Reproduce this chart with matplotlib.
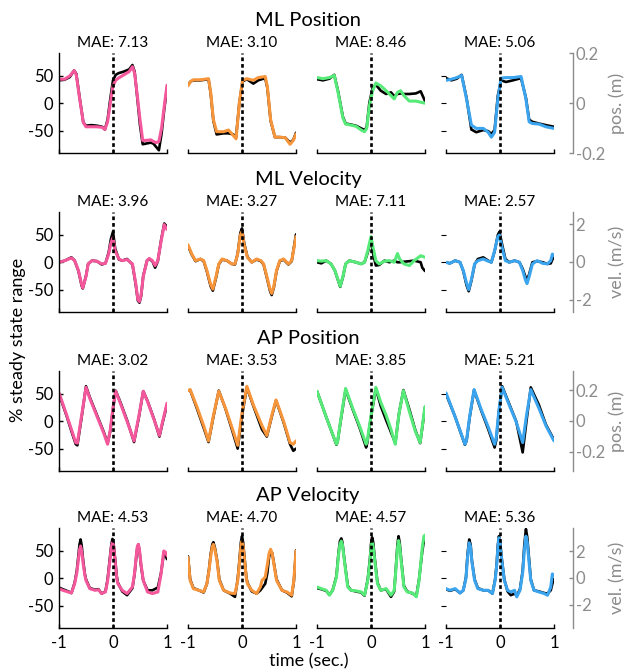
import matplotlib
matplotlib.use('Agg')
import matplotlib.pyplot as plt

plt.rcParams['font.family'] = ['Lato', 'DejaVu Sans']
plt.rcParams['axes.unicode_minus'] = False

# one colour per subject / column
colors = ['#f4579b', '#f7953b', '#56ea78', '#3ba4ee']
gray = '#8c8c8c'

row_titles = ['ML Position', 'ML Velocity', 'AP Position', 'AP Velocity']
right_labels = ['pos. (m)', 'vel. (m/s)', 'pos. (m)', 'vel. (m/s)']
right_lims = [(-0.2, 0.2), (-2.65, 2.65), (-0.325, 0.325), (-3.75, 3.75)]
right_ticks = [[-0.2, 0, 0.2], [-2, 0, 2], [-0.2, 0, 0.2], [-2, 0, 2]]
left_ticks = [-50, 0, 50]
time_ticks = [-1, 0, 1]
mae = [[7.13, 3.10, 8.46, 5.06],
       [3.96, 3.27, 7.11, 2.57],
       [3.02, 3.53, 3.85, 5.21],
       [4.53, 4.70, 4.57, 5.36]]

# ---- ML position (% steady state range) ----
mlp_t1 = [-1, -0.9, -0.8, -0.72, -0.68, -0.62, -0.55, -0.5, -0.4, -0.3, -0.2, -0.15, -0.1, -0.05, 0, 0.05,
          0.1, 0.2, 0.3, 0.36, 0.4, 0.45, 0.5, 0.55, 0.6, 0.7, 0.75, 0.8, 0.85, 0.9, 0.95, 1.0]
mlp_pred1 = [44, 44, 50, 60, 52, 10, -35, -43, -43, -43, -44, -48, -34, 0, 32, 42, 46, 52, 58, 67, 55, 14,
             -30, -68, -68, -67, -70, -72, -70, -45, -5, 33]
mlp_true1 = [42, 43, 48, 60, 54, 12, -35, -41, -40, -41, -43, -48, -30, 8, 42, 52, 55, 58, 62, 70, 58, 10,
             -40, -75, -74, -72, -74, -80, -86, -55, -10, 28]

mlp_t2 = [-1, -0.95, -0.9, -0.77, -0.62, -0.58, -0.53, -0.47, -0.34, -0.25, -0.16, -0.11, -0.05, 0.01, 0.09,
          0.21, 0.3, 0.43, 0.47, 0.53, 0.61, 0.7, 0.8, 0.89, 0.95, 1.0]
mlp_pred2 = [32, 40, 43, 43, 45, 20, -30, -52, -52, -49, -59, -65, 0, 42, 45, 42, 47, 49, 30, -30, -62, -62,
             -63, -75, -68, -56]
mlp_true2 = [34, 40, 42, 42, 44, 18, -32, -57, -55, -55, -57, -62, 0, 40, 44, 36, 42, 46, 28, -32, -62, -62,
             -63, -72, -67, -54]

mlp_t3 = [-1, -0.89, -0.77, -0.68, -0.61, -0.52, -0.47, -0.37, -0.28, -0.18, -0.12, -0.08, -0.03, 0.03, 0.09,
          0.18, 0.28, 0.37, 0.43, 0.49, 0.55, 0.61, 0.71, 0.83, 0.92, 1.0]
mlp_pred3 = [47, 45, 47, 51, 20, -27, -38, -40, -42, -49, -52, -46, -5, 23, 37, 32, 23, 14, 8, 20, 23, 14, 4,
             4, 2, 0]
mlp_true3 = [44, 42, 45, 52, 22, -25, -37, -39, -41, -46, -49, -44, 1, 28, 34, 23, 17, 20, 13, 17, 18, 17, 17,
             18, 22, 4]

mlp_t4 = [-1, -0.9, -0.8, -0.71, -0.62, -0.53, -0.44, -0.31, -0.22, -0.16, -0.1, -0.04, 0.02, 0.11, 0.24,
          0.39, 0.48, 0.54, 0.6, 0.72, 0.85, 1.0]
mlp_pred4 = [42, 44, 47, 51, 8, -40, -46, -46, -53, -62, -53, 8, 46, 47, 47, 49, 8, -34, -37, -38, -43, -46]
mlp_true4 = [46, 42, 45, 52, 10, -48, -53, -49, -51, -56, -49, 14, 42, 39, 42, 46, 10, -30, -34, -37, -40, -43]

# ---- ML velocity ----
mlv_t1 = [-1, -0.89, -0.77, -0.71, -0.64, -0.58, -0.56, -0.5, -0.46, -0.39, -0.3, -0.21, -0.14, -0.08, -0.04,
          0.0, 0.04, 0.11, 0.17, 0.26, 0.36, 0.42, 0.46, 0.49, 0.52, 0.56, 0.63, 0.67, 0.73, 0.78, 0.83, 0.89,
          0.95, 1.0]
mlv_pred1 = [0, 3, 8, 3, -15, -41, -47, -26, -3, 3, 2, -3, -2, 15, 35, 45, 21, 6, 3, 5, -3, -38, -68, -72,
             -60, -26, 3, 7, 3, -6, 3, 38, 69, 60]
mlv_true1 = [0, 3, 9, 3, -16, -43, -48, -25, -3, 3, 2, -4, -2, 18, 42, 56, 25, 5, 3, 6, -4, -40, -70, -74,
             -62, -25, 3, 6, 2, -10, 2, 40, 71, 65]

mlv_t2 = [-1, -0.93, -0.86, -0.77, -0.71, -0.65, -0.58, -0.54, -0.48, -0.43, -0.37, -0.28, -0.19, -0.13, -0.08,
          -0.03, 0.0, 0.04, 0.1, 0.18, 0.27, 0.35, 0.4, 0.46, 0.52, 0.55, 0.59, 0.64, 0.7, 0.77, 0.86, 0.92, 1.0]
mlv_pred2 = [32, 15, 3, 6, 3, -15, -41, -49, -26, -3, 6, 3, -3, -3, 15, 50, 56, 32, 9, 0, 6, 3, -3, -26, -50,
             -57, -44, -15, 3, 6, -3, 3, 47]
mlv_true2 = [30, 14, 2, 6, 2, -17, -44, -52, -28, -4, 5, 3, -3, -4, 16, 54, 62, 35, 10, 0, 5, 2, -4, -28, -53,
             -60, -46, -16, 2, 5, -4, 2, 51]

mlv_t3 = [-1, -0.92, -0.83, -0.74, -0.67, -0.61, -0.57, -0.52, -0.47, -0.4, -0.28, -0.18, -0.12, -0.06, 0.0,
          0.04, 0.09, 0.15, 0.25, 0.34, 0.43, 0.49, 0.53, 0.61, 0.71, 0.8, 0.92, 0.95, 1.0]
mlv_pred3 = [3, 2, 3, -3, -15, -32, -44, -26, -3, 3, 0, -3, 0, 21, 47, 26, 3, -3, 2, 3, 0, 16, 6, -3, -6, 3,
             12, 11, 9]
mlv_true3 = [0, -2, 3, -3, -15, -33, -45, -27, -3, 3, 0, -3, 0, 18, 43, 15, -6, -5, 3, 0, 3, 0, 0, 1, 2, 3,
             0, -10, -16]

mlv_t4 = [-1, -0.93, -0.83, -0.74, -0.68, -0.62, -0.58, -0.53, -0.47, -0.41, -0.31, -0.22, -0.16, -0.1, -0.04,
          -0.01, 0.04, 0.1, 0.17, 0.27, 0.36, 0.42, 0.47, 0.5, 0.54, 0.6, 0.69, 0.79, 0.88, 0.94, 0.97, 1.0]
mlv_pred4 = [0, -2, 3, 0, -15, -38, -50, -32, -3, 3, 6, 2, 0, 21, 47, 50, 26, 3, 0, 3, 0, -15, -32, -39, -26,
             -3, 3, -2, -3, 3, 15, 12]
mlv_true4 = [0, -2, 3, 0, -16, -42, -53, -34, -4, 6, 9, 3, 0, 20, 50, 56, 32, 6, 0, 3, 0, -12, -26, -32, -22,
             0, 2, 0, -3, -2, 5, 9]

# ---- AP position ----
app_t1 = [-1, -0.86, -0.77, -0.69, -0.66, -0.58, -0.5, -0.43, -0.3, -0.17, -0.1, -0.05, 0.0, 0.05, 0.14, 0.26,
          0.39, 0.48, 0.56, 0.64, 0.76, 0.86, 0.92, 1.0]
app_pred1 = [52, 12, -15, -39, -40, 11, 62, 42, 10, -22, -42, -15, 25, 55, 32, 0, -36, 10, 55, 36, 3, -26, 0, 33]
app_true1 = [50, 10, -18, -42, -44, 8, 64, 44, 12, -20, -40, -18, 22, 56, 34, 2, -38, 8, 55, 37, 4, -28, -2, 30]

app_t2 = [-1, -0.96, -0.83, -0.71, -0.62, -0.53, -0.43, -0.31, -0.19, -0.08, 0.0, 0.09, 0.21, 0.37, 0.46, 0.55,
          0.63, 0.77, 0.89, 0.95, 1.0]
app_pred2 = [56, 58, 25, -8, -36, 10, 55, 25, -10, -44, 15, 64, 30, -8, -26, 10, 39, 0, -39, -42, -36]
app_true2 = [56, 57, 22, -12, -38, 8, 56, 24, -14, -50, 10, 62, 28, -15, -28, 8, 38, -2, -42, -54, -50]

app_t3 = [-1, -0.83, -0.64, -0.62, -0.55, -0.47, -0.34, -0.21, -0.09, -0.07, 0.0, 0.09, 0.18, 0.28, 0.37, 0.45,
          0.52, 0.6, 0.71, 0.82, 0.91, 1.0]
app_pred3 = [55, 8, -42, -38, 10, 60, 24, -9, -42, -36, 10, 62, 35, 11, -15, -42, 15, 56, 18, -18, -39, 27]
app_true3 = [55, 8, -43, -38, 8, 58, 22, -12, -48, -40, 8, 60, 28, 2, -20, -40, 15, 57, 22, -16, -40, 25]

app_t4 = [-1, -0.83, -0.65, -0.62, -0.56, -0.48, -0.35, -0.22, -0.1, -0.07, -0.02, 0.04, 0.17, 0.3, 0.42, 0.49,
          0.57, 0.72, 0.85, 1.0]
app_pred4 = [52, 8, -42, -35, 10, 58, 22, -10, -42, -30, 20, 62, 30, -1, -39, 10, 58, 24, -8, -36]
app_true4 = [50, 8, -43, -36, 8, 57, 20, -14, -48, -35, 18, 64, 32, 0, -57, 0, 62, 30, -6, -34]

# ---- AP velocity ----
apv_t1 = [-1, -0.93, -0.83, -0.77, -0.71, -0.67, -0.64, -0.62, -0.6, -0.58, -0.55, -0.52, -0.5, -0.43, -0.33,
          -0.27, -0.21, -0.14, -0.1, -0.06, -0.03, -0.01, 0.01, 0.04, 0.07, 0.09, 0.17, 0.26, 0.36, 0.4, 0.43,
          0.45, 0.47, 0.49, 0.52, 0.56, 0.64, 0.73, 0.83, 0.89, 0.94, 0.98, 1.0]
apv_pred1 = [-19, -22, -25, -27, -10, 10, 35, 52, 59, 50, 25, 5, -4, -19, -22, -21, -28, -25, -5, 30, 58, 65,
             60, 30, 0, -10, -22, -28, -16, 10, 40, 58, 62, 52, 25, -4, -25, -28, -25, 8, 50, 47, 41]
apv_true1 = [-17, -20, -24, -27, -8, 14, 42, 62, 71, 60, 30, 7, -2, -18, -21, -20, -28, -24, -2, 35, 62, 72,
             64, 35, 3, -8, -24, -31, -18, 8, 38, 56, 62, 50, 22, -4, -22, -22, -17, 10, 45, 40, 35]

apv_t2 = [-1, -0.96, -0.9, -0.8, -0.71, -0.65, -0.61, -0.58, -0.55, -0.53, -0.5, -0.46, -0.42, -0.34, -0.22,
          -0.13, -0.08, -0.05, -0.02, 0.0, 0.02, 0.05, 0.08, 0.1, 0.18, 0.27, 0.34, 0.37, 0.43, 0.47, 0.5, 0.53,
          0.56, 0.6, 0.64, 0.74, 0.83, 0.92, 0.96, 1.0]
apv_pred2 = [38, -4, -19, -22, -25, -10, 15, 40, 58, 62, 52, 30, -4, -22, -27, -28, -5, 25, 58, 68, 60, 30, 0,
             -10, -22, -28, -16, -4, 2, 25, 45, 53, 45, 20, -4, -22, -25, -31, -4, 50]
apv_true2 = [40, -2, -18, -22, -26, -10, 17, 44, 62, 66, 55, 32, -2, -22, -28, -34, -2, 30, 66, 77, 66, 34, 2,
             -8, -24, -28, -22, -18, -10, 10, 38, 50, 46, 22, -2, -22, -26, -33, -6, 51]

apv_t3 = [-1, -0.92, -0.83, -0.77, -0.71, -0.64, -0.6, -0.575, -0.55, -0.53, -0.5, -0.47, -0.43, -0.37, -0.28,
          -0.18, -0.12, -0.06, -0.02, 0.0, 0.02, 0.04, 0.07, 0.12, 0.18, 0.28, 0.37, 0.43, 0.46, 0.49, 0.51, 0.53,
          0.56, 0.61, 0.67, 0.77, 0.84, 0.89, 0.95, 0.98, 1.0]
apv_pred3 = [-16, -19, -22, -31, -22, 2, 44, 62, 68, 62, 38, 14, -16, -22, -23, -25, -31, -4, 30, 55, 65, 58,
             32, -10, -22, -19, -31, -22, 15, 55, 69, 60, 30, -16, -25, -27, -34, -4, 56, 77, 79]
apv_true3 = [-18, -20, -23, -30, -22, 4, 48, 68, 73, 66, 40, 16, -14, -22, -24, -26, -32, -2, 35, 62, 75, 66,
             36, -8, -22, -20, -34, -24, 18, 62, 77, 66, 34, -14, -24, -28, -32, -2, 50, 68, 65]

apv_t4 = [-1, -0.93, -0.83, -0.74, -0.68, -0.63, -0.6, -0.57, -0.545, -0.52, -0.47, -0.41, -0.31, -0.22, -0.14,
          -0.09, -0.06, -0.04, -0.02, 0.0, 0.03, 0.08, 0.14, 0.2, 0.27, 0.31, 0.37, 0.42, 0.45, 0.48, 0.505, 0.53,
          0.57, 0.63, 0.72, 0.82, 0.88, 0.94, 0.97, 1.0]
apv_pred4 = [-19, -22, -19, -27, -22, 0, 40, 65, 58, 30, -4, -19, -22, -22, -28, -4, 25, 55, 74, 65, 35, -4,
             -22, -25, -22, -34, -22, 10, 50, 77, 65, 38, -4, -22, -25, -28, -31, -16, 8, 5]
apv_true4 = [-20, -23, -20, -27, -22, 2, 45, 71, 62, 32, -2, -18, -22, -22, -28, -2, 28, 60, 77, 68, 38, -2,
             -24, -31, -28, -32, -20, 14, 60, 90, 75, 45, -2, -22, -24, -27, -28, -22, -10, -1]

panels = [
    [(mlp_t1, mlp_true1, mlp_pred1), (mlp_t2, mlp_true2, mlp_pred2),
     (mlp_t3, mlp_true3, mlp_pred3), (mlp_t4, mlp_true4, mlp_pred4)],
    [(mlv_t1, mlv_true1, mlv_pred1), (mlv_t2, mlv_true2, mlv_pred2),
     (mlv_t3, mlv_true3, mlv_pred3), (mlv_t4, mlv_true4, mlv_pred4)],
    [(app_t1, app_true1, app_pred1), (app_t2, app_true2, app_pred2),
     (app_t3, app_true3, app_pred3), (app_t4, app_true4, app_pred4)],
    [(apv_t1, apv_true1, apv_pred1), (apv_t2, apv_true2, apv_pred2),
     (apv_t3, apv_true3, apv_pred3), (apv_t4, apv_true4, apv_pred4)],
]

W, H = 626, 672
lefts = [59, 188, 317, 446]
tops = [53, 212, 371, 528]
ax_w, ax_h = 108, 100


def fx(px):
    return px / W


def fy(py):
    return 1 - py / H


fig = plt.figure(figsize=(W / 100, H / 100), dpi=100)

for r in range(4):
    fig.text(fx(308), fy(tops[r] - 32), row_titles[r], ha='center', va='center', fontsize=14.5)
    for c in range(4):
        ax = fig.add_axes([fx(lefts[c]), fy(tops[r] + ax_h), ax_w / W, ax_h / H])
        t, true, pred = panels[r][c]
        ax.plot(t, true, color='k', lw=1.9, solid_joinstyle='round', solid_capstyle='round')
        ax.plot(t, pred, color=colors[c], lw=2.2, solid_joinstyle='round', solid_capstyle='round')
        ax.axvline(0, color='k', lw=1.9, ls=(0, (1.4, 1.1)), zorder=4)
        ax.set_xlim(-1, 1)
        ax.set_ylim(-91, 92)
        ax.patch.set_visible(False)
        for s in ['top', 'right']:
            ax.spines[s].set_visible(False)
        ax.spines['bottom'].set_linewidth(1.0)
        ax.set_xticks(time_ticks)
        ax.tick_params(axis='x', direction='in', length=3, width=1.0, labelsize=12, pad=5,
                       labelbottom=(r == 3))
        if c == 0:
            ax.spines['left'].set_linewidth(1.0)
            ax.set_yticks(left_ticks)
            ax.set_yticklabels([str(v) for v in left_ticks])
            ax.tick_params(axis='y', direction='in', length=3, width=1.0, labelsize=12, pad=4)
        else:
            ax.spines['left'].set_visible(False)
            ax.tick_params(axis='y', left=False, labelleft=False)
        fig.text(fx(lefts[c] + ax_w / 2), fy(tops[r] - 10), 'MAE: %.2f' % mae[r][c],
                 ha='center', va='center', fontsize=11)
        if c == 3:
            ax2 = ax.twinx()
            ax2.set_ylim(right_lims[r])
            ax2.set_yticks(right_ticks[r])
            ax2.set_yticklabels([str(v) for v in right_ticks[r]])
            for s in ['top', 'left', 'bottom']:
                ax2.spines[s].set_visible(False)
            ax2.spines['right'].set_position(('outward', 13.5))
            ax2.spines['right'].set_color(gray)
            ax2.spines['right'].set_linewidth(1.0)
            ax2.tick_params(axis='y', colors=gray, direction='in', length=3, width=1.0,
                            labelsize=12, pad=2)
            fig.text(fx(617), fy(tops[r] + ax_h / 2), right_labels[r], rotation=90,
                     ha='center', va='center', fontsize=13, color=gray)

fig.text(fx(18), fy(340), '% steady state range', rotation=90, ha='center', va='center', fontsize=13)
fig.text(fx(309), fy(661), 'time (sec.)', ha='center', va='center', fontsize=13)

fig.savefig('out.png', dpi=100)
